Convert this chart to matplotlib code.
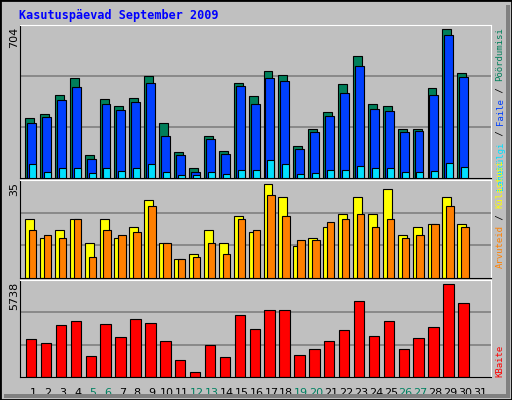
import matplotlib
matplotlib.use("Agg")
import matplotlib.pyplot as plt
from matplotlib.patches import Rectangle
import numpy as np

days = list(range(1, 32))
weekends = [5, 6, 12, 13, 19, 20, 26, 27]
hits = [284, 303, 393, 475, 107, 374, 341, 379, 484, 260, 121, 45, 198, 126, 451, 389, 508, 489, 150, 231, 312, 446, 580, 350, 341, 231, 231, 427, 704, 499]
files = [260, 288, 370, 432, 92, 350, 322, 360, 451, 198, 107, 30, 183, 116, 436, 350, 475, 460, 135, 217, 293, 403, 532, 327, 317, 217, 221, 393, 675, 479]
pages = [68, 30, 49, 45, 25, 45, 35, 45, 68, 30, 16, 16, 30, 21, 40, 40, 83, 64, 21, 25, 40, 40, 59, 49, 49, 30, 30, 35, 73, 54]
visits = [22, 15, 18, 22, 13, 22, 15, 19, 29, 13, 7, 9, 18, 13, 23, 17, 35, 30, 12, 15, 19, 24, 30, 24, 33, 16, 19, 20, 30, 20]
hosts = [18, 16, 15, 22, 8, 18, 16, 17, 27, 13, 7, 8, 13, 9, 22, 18, 31, 23, 14, 14, 21, 22, 24, 19, 22, 15, 16, 20, 27, 19]
kbytes = [2345, 2094, 3225, 3413, 1277, 3288, 2471, 3539, 3350, 2220, 1026, 335, 1968, 1215, 3790, 2974, 4104, 4104, 1340, 1717, 2220, 2911, 4670, 2534, 3413, 1717, 2408, 3099, 5738, 4544]

W, H = 512, 400
fig = plt.figure(figsize=(W/100, H/100), dpi=100)
fig.patch.set_facecolor('#c0c0c0')
fig.add_artist(Rectangle((0, 0), 1, 1, transform=fig.transFigure, fill=False, ec='black', lw=2))
fig.add_artist(Rectangle((506/W, 2/H), 4/W, 393/H, transform=fig.transFigure, fc='#808080', ec='none'))
fig.add_artist(Rectangle((4/W, 2/H), 506/W, 4/H, transform=fig.transFigure, fc='#808080', ec='none'))

def ax_at(x0, y0, x1, y1):
    ax = fig.add_axes([x0/W, 1 - y1/H, (x1-x0)/W, (y1-y0)/H])
    ax.set_facecolor('#c0c0c0')
    ax.set_xlim(0.13, 31.73)
    ax.set_xticks([]); ax.set_yticks([])
    for s in ['top', 'right']:
        ax.spines[s].set_color('white')
    ax.spines['left'].set_color('black')
    ax.spines['bottom'].set_color('black')
    return ax

def grid(ax, ymax):
    for f in (1/3, 2/3):
        ax.axhline(ymax*f, color='#808080', lw=1.2, zorder=0)

x = np.array(days[:30])
mono = 'DejaVu Sans Mono'

ax1 = ax_at(20, 25, 491, 178)
y1 = 724.5
ax1.set_ylim(0, y1); grid(ax1, y1)
ax1.bar(x - 0.53, hits, width=0.6, align='edge', color='#007f5a', ec='black', lw=0.8, zorder=2)
ax1.bar(x - 0.4, files, width=0.6, align='edge', color='#0040ff', ec='black', lw=0.8, zorder=3)
ax1.bar(x - 0.27, pages, width=0.47, align='edge', color='#00e0ff', ec='black', lw=0.8, zorder=4)

ax2 = ax_at(20, 180, 491, 278)
y2 = 36.5
ax2.set_ylim(0, y2); grid(ax2, y2)
ax2.bar(x - 0.53, visits, width=0.6, align='edge', color='#ffff00', ec='black', lw=0.8, zorder=2)
ax2.bar(x - 0.27, hosts, width=0.5, align='edge', color='#ff8000', ec='black', lw=0.8, zorder=3)

ax3 = ax_at(20, 280, 491, 377)
y3 = 5964
ax3.set_ylim(0, y3); grid(ax3, y3)
ax3.bar(x - 0.47, kbytes, width=0.7, align='edge', color='#ff0000', ec='black', lw=0.8, zorder=2)
ax3.set_xticks(days)
ax3.set_xticklabels([str(d) for d in days], fontsize=8, family='DejaVu Sans')
ax3.tick_params(axis='x', length=0, pad=8)
for lbl, d in zip(ax3.get_xticklabels(), days):
    lbl.set_color('#008060' if d in weekends else 'black')

fig.text(19/W, 1 - 15/H, 'Kasutuspäevad September 2009', color='#0000ff', fontsize=8.5,
         family=mono, fontweight='bold', va='center', ha='left')
for txt, ytop in [('704', 27), ('35', 182), ('5738', 282)]:
    fig.text(14/W, 1 - ytop/H, txt, rotation=90, fontsize=8, va='top', ha='center', family='DejaVu Sans')

def vlabel(parts, ybottom, fs=6.5):
    step = 0.602 * fs * 100 / 72
    y = ybottom
    for t, c in parts:
        fig.text(500/W, 1 - y/H, t, rotation=90, color=c, fontsize=fs, family=mono,
                 va='bottom', ha='center')
        y -= len(t) * step
vlabel([('Lehekülgi', '#00e0ff'), (' / ', 'black'), ('Faile', '#0040ff'), (' / ', 'black'), ('Pöördumisi', '#007f5a')], 190)
vlabel([('Arvuteid', '#ff8000'), (' / ', 'black'), ('Külastusi', '#ffff00')], 268)
vlabel([('KBaite', '#ff0000')], 377)

fig.savefig('out.png', dpi=100, facecolor=fig.get_facecolor())
